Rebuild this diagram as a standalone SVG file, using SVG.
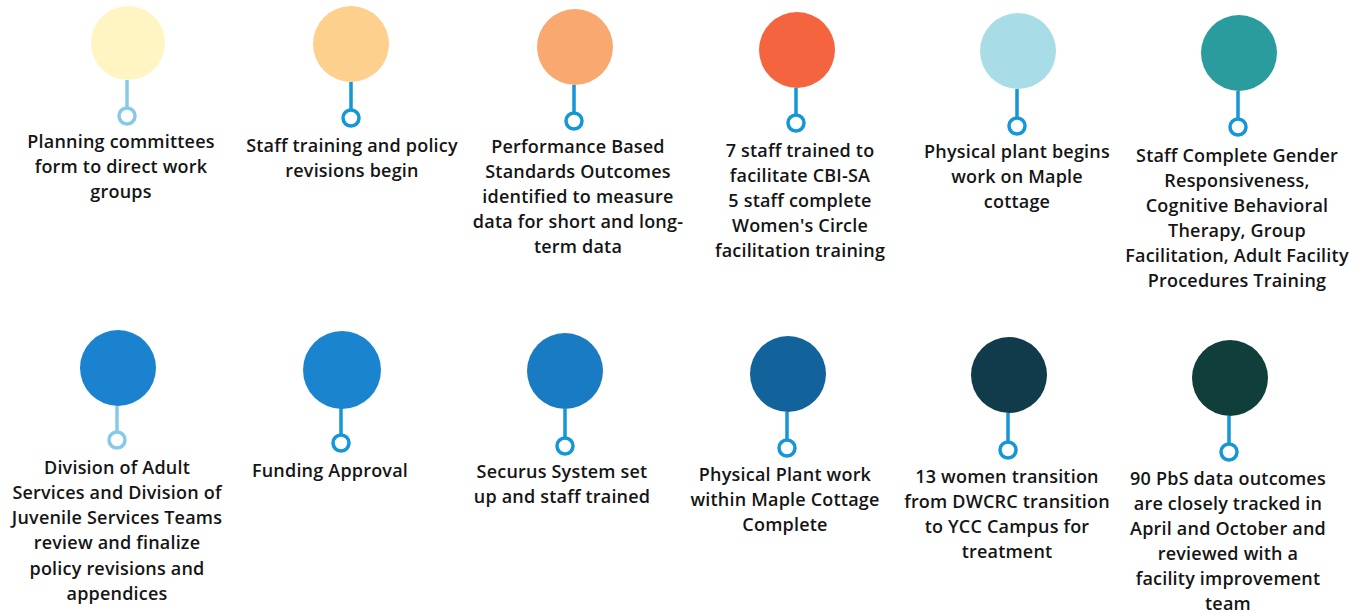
<svg xmlns="http://www.w3.org/2000/svg" width="1361" height="613" viewBox="0 0 1361 613">
<style>
.stem{stroke:#1596d6;stroke-width:3.5;fill:none}
.stem.l{stroke:#86c9e8}
.ring{stroke:#1596d6;stroke-width:3.5;fill:#fff}
.ring.l{stroke:#86c9e8}
text{font-family:"Open Sans","Noto Sans",sans-serif;font-size:18px;letter-spacing:0.2px;fill:#151515;text-anchor:middle;font-weight:600}
</style>
<rect width="1361" height="613" fill="#ffffff"/>
<g id="connectors">
<line class="stem l" x1="127" y1="80" x2="127" y2="107"/>
<line class="stem" x1="351" y1="82" x2="351" y2="110"/>
<line class="stem" x1="574" y1="85" x2="574" y2="113"/>
<line class="stem" x1="796" y1="88" x2="796" y2="115"/>
<line class="stem" x1="1017" y1="89" x2="1017" y2="118"/>
<line class="stem" x1="1238" y1="91" x2="1238" y2="119"/>
<line class="stem l" x1="117" y1="406" x2="117" y2="432"/>
<line class="stem" x1="341" y1="408" x2="341" y2="435"/>
<line class="stem" x1="565" y1="409" x2="565" y2="438"/>
<line class="stem" x1="787" y1="412" x2="787" y2="440"/>
<line class="stem" x1="1008" y1="413" x2="1008" y2="442"/>
<line class="stem" x1="1229" y1="416" x2="1229" y2="444"/>
</g>
<g id="n1">
<circle cx="128" cy="43" r="37" fill="#fff5c2"/>
<circle class="ring l" cx="127" cy="116" r="8"/>
<text x="121" y="148">Planning committees</text>
<text x="121" y="173">form to direct work</text>
<text x="121" y="198">groups</text>
</g>
<g id="n2">
<circle cx="351" cy="44" r="38" fill="#fdd08d"/>
<circle class="ring" cx="351" cy="118" r="8"/>
<text x="352" y="152">Staff training and policy</text>
<text x="352" y="177">revisions begin</text>
</g>
<g id="n3">
<circle cx="575" cy="47" r="38" fill="#f9a86f"/>
<circle class="ring" cx="574" cy="121" r="8"/>
<text x="578" y="153">Performance Based</text>
<text x="578" y="178">Standards Outcomes</text>
<text x="578" y="203">identified to measure</text>
<text x="578" y="228">data for short and long-</text>
<text x="578" y="253">term data</text>
</g>
<g id="n4">
<circle cx="797" cy="50" r="38" fill="#f4643e"/>
<circle class="ring" cx="796" cy="123" r="8"/>
<text x="800" y="157">7 staff trained to</text>
<text x="800" y="182">facilitate CBI-SA</text>
<text x="800" y="207">5 staff complete</text>
<text x="800" y="232">Women's Circle</text>
<text x="800" y="257">facilitation training</text>
</g>
<g id="n5">
<circle cx="1018" cy="51" r="38" fill="#a8dce6"/>
<circle class="ring" cx="1017" cy="126" r="8"/>
<text x="1017" y="158">Physical plant begins</text>
<text x="1017" y="183">work on Maple</text>
<text x="1017" y="208">cottage</text>
</g>
<g id="n6">
<circle cx="1239" cy="53" r="38" fill="#2b9c9e"/>
<circle class="ring" cx="1238" cy="127" r="8"/>
<text x="1237" y="162">Staff Complete Gender</text>
<text x="1237" y="187">Responsiveness,</text>
<text x="1237" y="212">Cognitive Behavioral</text>
<text x="1237" y="237">Therapy, Group</text>
<text x="1237" y="262">Facilitation, Adult Facility</text>
<text x="1237" y="287">Procedures Training</text>
</g>
<g id="n7">
<circle cx="118" cy="368" r="38" fill="#1b82d0"/>
<circle class="ring l" cx="117" cy="440" r="8"/>
<text x="117" y="474">Division of Adult</text>
<text x="117" y="499">Services and Division of</text>
<text x="117" y="524">Juvenile Services Teams</text>
<text x="117" y="549">review and finalize</text>
<text x="117" y="575">policy revisions and</text>
<text x="117" y="600">appendices</text>
</g>
<g id="n8">
<circle cx="342" cy="370" r="39" fill="#1a84cf"/>
<circle class="ring" cx="341" cy="443" r="8"/>
<text x="330" y="477">Funding Approval</text>
</g>
<g id="n9">
<circle cx="565" cy="371" r="38" fill="#197bc2"/>
<circle class="ring" cx="565" cy="446" r="8"/>
<text x="562" y="478">Securus System set</text>
<text x="562" y="503">up and staff trained</text>
</g>
<g id="n10">
<circle cx="788" cy="374" r="38" fill="#12629c"/>
<circle class="ring" cx="787" cy="448" r="8"/>
<text x="785" y="481">Physical Plant work</text>
<text x="785" y="506">within Maple Cottage</text>
<text x="785" y="531">Complete</text>
</g>
<g id="n11">
<circle cx="1009" cy="375" r="38" fill="#0f3b4b"/>
<circle class="ring" cx="1008" cy="450" r="8"/>
<text x="1007" y="483">13 women transition</text>
<text x="1007" y="508">from DWCRC transition</text>
<text x="1007" y="533">to YCC Campus for</text>
<text x="1007" y="558">treatment</text>
</g>
<g id="n12">
<circle cx="1230" cy="378" r="38" fill="#0f3e3b"/>
<circle class="ring" cx="1229" cy="452" r="8"/>
<text x="1228" y="485">90 PbS data outcomes</text>
<text x="1228" y="510">are closely tracked in</text>
<text x="1228" y="535">April and October and</text>
<text x="1228" y="560">reviewed with a</text>
<text x="1228" y="585">facility improvement</text>
<text x="1228" y="610">team</text>
</g>
</svg>
